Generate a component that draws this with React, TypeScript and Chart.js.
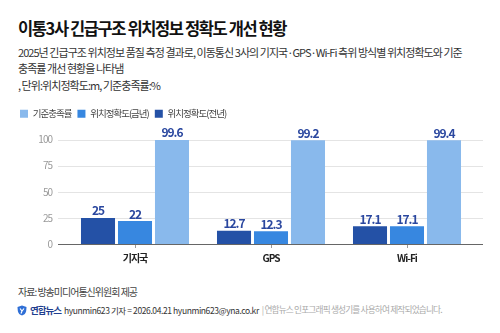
import React, { useEffect, useRef } from 'react';
import { Chart, registerables } from 'chart.js';

Chart.register(...registerables);

const categories = ['기지국', 'GPS', 'Wi-Fi'];
const prevYearAccuracy = [25, 12.7, 17.1];
const thisYearAccuracy = [22, 12.3, 17.1];
const standardRate = [99.6, 99.2, 99.4];
const seriesLabels = ['위치정확도(전년)', '위치정확도(금년)', '기준충족률'];
const seriesColors = ['#2451a6', '#3787e0', '#89b9ec'];
const yTickValues = [0, 25, 50, 75, 100];

const titleText = '이통3사 긴급구조 위치정보 정확도 개선 현황';
const subtitleLines = [
  '2025년 긴급구조 위치정보 품질 측정 결과로, 이동통신 3사의 기지국·GPS·Wi-Fi 측위 방식별 위치정확도와 기준',
  '충족률 개선 현황을 나타냄',
  ', 단위:위치정확도:m, 기준충족률:%',
];
const sourceText = '자료: 방송미디어통신위원회 제공';

const FONT = '"Noto Sans CJK KR", "Noto Sans", sans-serif';

const spacingPlugin = {
  id: 'spacing',
  beforeLayout(chart: any) {
    chart.ctx.letterSpacing = '-1px';
  },
  afterLayout(chart: any) {
    const xs = chart.scales.x;
    if (xs && !xs._lsPatched) {
      const d = xs.draw;
      xs.draw = function (a: any) {
        this.ctx.save();
        this.ctx.letterSpacing = '-1.5px';
        d.call(this, a);
        this.ctx.restore();
      };
      xs._lsPatched = true;
    }
  },
  beforeDraw(chart: any) {
    chart.ctx.letterSpacing = '-1px';
  },
};

const legendGapPlugin = {
  id: 'legendGap',
  beforeInit(chart: any) {
    const legend = chart.legend;
    if (!legend) return;
    const fit = legend.fit;
    legend.fit = function () {
      fit.call(this);
      this.height += 11;
    };
  },
};

const gridPlugin = {
  id: 'customGrid',
  beforeDatasetsDraw(chart: any) {
    const { ctx, chartArea, scales } = chart;
    const y = scales.y;
    ctx.save();
    ctx.strokeStyle = '#e4e4e4';
    ctx.lineWidth = 1;
    yTickValues.forEach((v) => {
      if (v === 0) return;
      const py = Math.round(y.getPixelForValue(v)) + 0.5;
      ctx.beginPath();
      ctx.moveTo(chartArea.left - 9, py);
      ctx.lineTo(chartArea.right + 8, py);
      ctx.stroke();
    });
    ctx.restore();
  },
  afterDatasetsDraw(chart: any) {
    const { ctx, chartArea, scales } = chart;
    const y = scales.y;
    ctx.save();
    ctx.strokeStyle = '#666';
    ctx.lineWidth = 1;
    const py = Math.round(y.getPixelForValue(0)) + 0.5;
    ctx.beginPath();
    ctx.moveTo(chartArea.left - 9, py);
    ctx.lineTo(chartArea.right + 8, py);
    ctx.stroke();
    ctx.restore();
  },
};

const dataLabelPlugin = {
  id: 'dataLabels',
  afterDatasetsDraw(chart: any) {
    const { ctx } = chart;
    ctx.save();
    ctx.letterSpacing = '-1px';
    ctx.font = `bold 12px ${FONT}`;
    ctx.fillStyle = '#2a479f';
    ctx.textAlign = 'center';
    ctx.textBaseline = 'bottom';
    chart.data.datasets.forEach((ds: any, i: number) => {
      const meta = chart.getDatasetMeta(i);
      meta.data.forEach((bar: any, j: number) => {
        ctx.fillText(String(ds.data[j]), bar.x, bar.y - 1);
      });
    });
    ctx.restore();
  },
};

export default function App() {
  const canvasRef = useRef<HTMLCanvasElement | null>(null);

  useEffect(() => {
    if (!canvasRef.current) return;
    const chart = new Chart(canvasRef.current, {
      type: 'bar',
      data: {
        labels: categories,
        datasets: [
          { label: seriesLabels[0], data: prevYearAccuracy, backgroundColor: seriesColors[0] },
          { label: seriesLabels[1], data: thisYearAccuracy, backgroundColor: seriesColors[1] },
          { label: seriesLabels[2], data: standardRate, backgroundColor: seriesColors[2] },
        ],
      },
      options: {
        animation: false,
        responsive: false,
        maintainAspectRatio: false,
        devicePixelRatio: 1,
        layout: { padding: { left: 14, right: 25, top: 3, bottom: 2 } },
        datasets: { bar: { categoryPercentage: 0.816, barPercentage: 0.92 } },
        plugins: {
          legend: {
            position: 'top',
            align: 'start',
            reverse: true,
            labels: {
              boxWidth: 8,
              boxHeight: 8,
              padding: 6,
              color: '#444',
              font: { family: FONT, size: 9.5 },
            },
          },
          tooltip: { enabled: false },
        },
        scales: {
          x: {
            grid: { display: true, drawOnChartArea: false, drawTicks: true, tickLength: 4, offset: false, color: '#999' },
            border: { display: false },
            ticks: { color: '#222', font: { family: FONT, size: 10, weight: 'bold' }, padding: 4 },
          },
          y: {
            min: 0,
            max: 100,
            grid: { display: false, drawTicks: false },
            border: { display: false },
            afterFit: (scale: any) => {
              scale.width = 53;
            },
            ticks: {
              stepSize: 25,
              color: '#9a9a9a',
              padding: 15,
              font: { family: FONT, size: 10 },
            },
          },
        },
      },
      plugins: [spacingPlugin, legendGapPlugin, gridPlugin, dataLabelPlugin],
    } as any);
    return () => chart.destroy();
  }, []);

  return (
    <div
      style={{
        position: 'fixed',
        left: 0,
        top: 0,
        width: 500,
        height: 333,
        background: '#fff',
        fontFamily: FONT,
        overflow: 'hidden',
      }}
    >
      <div
        style={{
          position: 'absolute',
          left: 18,
          top: 18,
          fontSize: 16.5,
          lineHeight: '20px',
          fontWeight: 700,
          color: '#111',
          whiteSpace: 'nowrap',
          letterSpacing: '-1.4px',
        }}
      >
        {titleText}
      </div>
      <div
        style={{
          position: 'absolute',
          left: 18,
          top: 44,
          fontSize: 11,
          lineHeight: '16.3px',
          color: '#333',
          whiteSpace: 'nowrap',
          letterSpacing: '-0.95px',
        }}
      >
        {subtitleLines.map((l, i) => (
          <div key={i}>{l}</div>
        ))}
      </div>
      <div style={{ position: 'absolute', left: 0, top: 100, width: 500, height: 170 }}>
        <canvas ref={canvasRef} width={500} height={170} style={{ width: 500, height: 170, display: 'block' }} />
      </div>
      <div
        style={{
          position: 'absolute',
          left: 18,
          top: 285,
          fontSize: 10,
          lineHeight: '14px',
          color: '#444',
          whiteSpace: 'nowrap',
          letterSpacing: '-1px',
        }}
      >
        {sourceText}
      </div>
      <div
        style={{
          position: 'absolute',
          left: 17,
          top: 303,
          fontSize: 8.5,
          lineHeight: '14px',
          whiteSpace: 'nowrap',
          display: 'flex',
          alignItems: 'center',
        }}
      >
        <svg width="10" height="11" viewBox="0 0 10 11" style={{ marginRight: 3 }}>
          <path d="M5 0.5 L9.5 2 L9.2 6 Q8.5 9.5 5 10.5 Q1.5 9.5 0.8 6 L0.5 2 Z" fill="#2f6fd6" />
          <path d="M3 3.5 L5 6 L7 3.5 M5 6 L4 8.5" stroke="#fff" strokeWidth="1.2" fill="none" />
        </svg>
        <span style={{ fontWeight: 700, color: '#1f3f8f', fontSize: 9.5, letterSpacing: '-1px', marginRight: 3 }}>연합뉴스</span>
        <span style={{ color: '#333', letterSpacing: '-0.4px' }}>hyunmin623 기자 = 2026.04.21 hyunmin623@yna.co.kr</span>
        <span style={{ color: '#aaa', marginLeft: 3, fontSize: 8.7, letterSpacing: '-0.85px' }}>
          | 연합뉴스 인포그래픽 생성기를 사용하여 제작되었습니다.
        </span>
      </div>
    </div>
  );
}
